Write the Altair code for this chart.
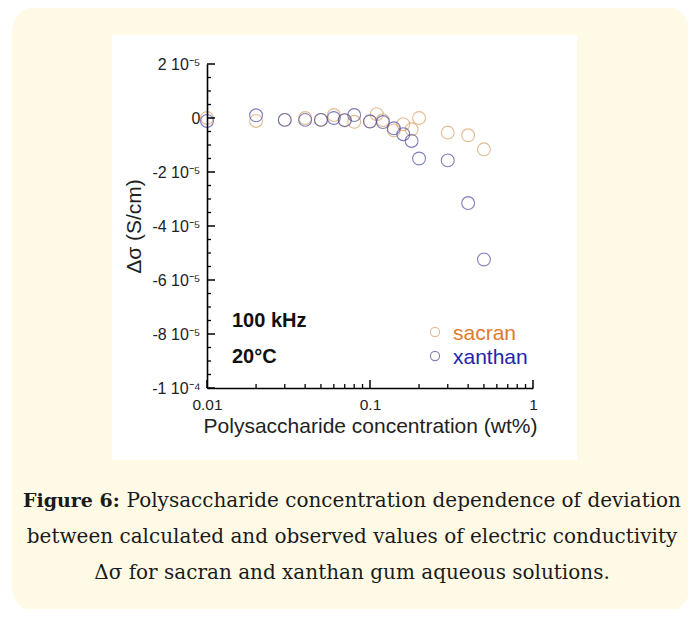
import altair as alt
import pandas as pd

# ---- data (Δσ in units of 1e-5 S/cm) ----
series_names = ["sacran", "xanthan"]
sacran_conc = [0.01, 0.02, 0.03, 0.04, 0.05, 0.06, 0.07, 0.08, 0.1, 0.11, 0.12, 0.14, 0.16, 0.18, 0.2, 0.3, 0.4, 0.5]
sacran_dsigma = [0.0, -0.11, -0.07, 0.0, -0.07, 0.11, -0.08, -0.14, -0.12, 0.14, -0.08, -0.46, -0.23, -0.42, 0.0, -0.54, -0.64, -1.16]
xanthan_conc = [0.01, 0.02, 0.03, 0.04, 0.05, 0.06, 0.07, 0.08, 0.1, 0.12, 0.14, 0.16, 0.18, 0.2, 0.3, 0.4, 0.5]
xanthan_dsigma = [-0.11, 0.10, -0.07, -0.07, -0.07, 0.0, -0.08, 0.11, -0.13, -0.15, -0.38, -0.60, -0.85, -1.50, -1.57, -3.15, -5.24]

marker_colors = ["#D8A066", "#4A4A9E"]
legend_text_colors = ["#E07A30", "#2323B0"]

x_label_values = [0.01, 0.1, 1]
x_minor_ticks = [0.02, 0.03, 0.04, 0.05, 0.06, 0.07, 0.08, 0.09, 0.2, 0.3, 0.4, 0.5, 0.6, 0.7, 0.8, 0.9]
y_tick_values = [2, 0, -2, -4, -6, -8, -10]
y_tick_labels = ["2 10⁻⁵", "0", "-2 10⁻⁵", "-4 10⁻⁵", "-6 10⁻⁵", "-8 10⁻⁵", "-1 10⁻⁴"]
y_minor_ticks = [1.5, 1, 0.5, -0.5, -1, -1.5, -2.5, -3, -3.5, -4.5, -5, -5.5, -6.5, -7, -7.5,
                 -8.5, -9, -9.5]

x_title = "Polysaccharide concentration (wt%)"
y_title = "Δσ (S/cm)"
note_lines = ["100 kHz", "20°C"]
caption_bold = "Figure 6:"
caption_lines = [
    "Polysaccharide concentration dependence of deviation",
    "between calculated and observed values of electric conductivity",
    "Δσ for sacran and xanthan gum aqueous solutions.",
]

W, H = 326, 324
SANS = "Liberation Sans"
SERIF = "DejaVu Serif"
CAP_SIZE = 20

df = pd.concat([
    pd.DataFrame({"conc": sacran_conc, "dsigma": sacran_dsigma, "series": series_names[0]}),
    pd.DataFrame({"conc": xanthan_conc, "dsigma": xanthan_dsigma, "series": series_names[1]}),
])

xscale = alt.Scale(type="log", domain=[0.01, 1])
yscale = alt.Scale(domain=[-10, 2], nice=False, zero=False)

label_expr = ""
for v, lab in zip(y_tick_values, y_tick_labels):
    label_expr += f"datum.value == {v} ? '{lab}' : "
label_expr += "''"

xaxis = alt.Axis(
    values=x_label_values, format="~g", ticks=False, grid=False, zindex=2,
    domainColor="black", domainWidth=1.6, labelFont=SANS, labelFontSize=15.5, labelColor="#222",
    labelPadding=9, title=x_title, titleFont=SANS, titleFontSize=21, titleFontWeight="normal",
    titleColor="#222", titlePadding=3, labelFlush=False)
yaxis = alt.Axis(
    values=y_tick_values, labelExpr=label_expr, ticks=False, grid=False, zindex=2,
    domainColor="black", domainWidth=1.6, labelFont=SANS, labelFontSize=16, labelColor="#222",
    labelPadding=7, title=y_title, titleFont=SANS, titleFontSize=21, titleFontWeight="normal",
    titleColor="#222", titlePadding=7, labelFlush=False)

X = lambda: alt.X("conc:Q", scale=xscale, axis=xaxis, title=x_title)
Y = lambda: alt.Y("dsigma:Q", scale=yscale, axis=yaxis, title=y_title)

one = pd.DataFrame({"a": [0]})

cream = alt.Chart(one).mark_rect(color="#FFFAE6", cornerRadius=26).encode(
    x=alt.value(-195), x2=alt.value(483), y=alt.value(-58), y2=alt.value(549))
white = alt.Chart(one).mark_rect(color="#FFFFFF").encode(
    x=alt.value(-95), x2=alt.value(370), y=alt.value(-29), y2=alt.value(396))

points = alt.Chart(df).mark_point(shape="circle", filled=False, size=165, strokeWidth=1.1, clip=False).encode(
    x=X(), y=Y(),
    color=alt.Color("series:N", scale=alt.Scale(domain=series_names, range=marker_colors), legend=None),
)

ymaj = alt.Chart(pd.DataFrame({"dsigma": y_tick_values})).mark_rule(color="black", strokeWidth=1.5).encode(
    y=Y(), x=alt.value(0), x2=alt.value(8))
ymin = alt.Chart(pd.DataFrame({"dsigma": y_minor_ticks})).mark_rule(color="black", strokeWidth=1.3).encode(
    y=Y(), x=alt.value(0), x2=alt.value(4))
xmaj = alt.Chart(pd.DataFrame({"conc": x_label_values})).mark_rule(color="black", strokeWidth=1.5).encode(
    x=X(), y=alt.value(H), y2=alt.value(H - 8))
xmin = alt.Chart(pd.DataFrame({"conc": x_minor_ticks})).mark_rule(color="black", strokeWidth=1.3).encode(
    x=X(), y=alt.value(H), y2=alt.value(H - 4))

leg_df = pd.DataFrame({"series": series_names, "tc": legend_text_colors, "yy": [268, 292], "ty": [270, 294]})
leg_pts = alt.Chart(leg_df).mark_point(shape="circle", filled=False, size=85, strokeWidth=1.1).encode(
    x=alt.value(228), y=alt.Y("yy:Q", scale=None),
    color=alt.Color("series:N", scale=alt.Scale(domain=series_names, range=marker_colors), legend=None))
leg_txt = alt.Chart(leg_df).mark_text(align="left", baseline="middle", font=SANS, fontSize=21).encode(
    x=alt.value(246), y=alt.Y("ty:Q", scale=None), text="series:N", color=alt.Color("tc:N", scale=None))

notes = alt.Chart(pd.DataFrame({"t": note_lines, "yy": [257, 293]})).mark_text(
    align="left", baseline="middle", font=SANS, fontSize=20, fontWeight="bold", color="#111").encode(
    x=alt.value(25), y=alt.Y("yy:Q", scale=None), text="t:N")

cap_bold = alt.Chart(one).mark_text(align="left", baseline="middle", font=SERIF, fontSize=19,
                                    fontWeight="bold", color="#1a1a1a").encode(
    x=alt.value(-184), y=alt.value(437), text=alt.value(caption_bold))
cap1 = alt.Chart(one).mark_text(align="right", baseline="middle", font=SERIF, fontSize=CAP_SIZE, color="#1a1a1a").encode(
    x=alt.value(474), y=alt.value(437), text=alt.value(caption_lines[0]))
cap_rest = alt.Chart(pd.DataFrame({"t": caption_lines[1:], "yy": [473, 509]})).mark_text(
    align="center", baseline="middle", font=SERIF, fontSize=CAP_SIZE, color="#1a1a1a").encode(
    x=alt.value(145), y=alt.Y("yy:Q", scale=None), text="t:N")

chart = alt.layer(cream, white, points, ymaj, ymin, xmaj, xmin, leg_pts, leg_txt, notes,
                  cap_bold, cap1, cap_rest).properties(
    width=W, height=H,
    padding={"left": 199, "top": 56, "right": 155, "bottom": 221},
    autosize=alt.AutoSizeParams(type="none"),
).configure_view(stroke=None).configure(background="white")

chart.save("out.html", embed_options={"renderer": "svg", "actions": False})
